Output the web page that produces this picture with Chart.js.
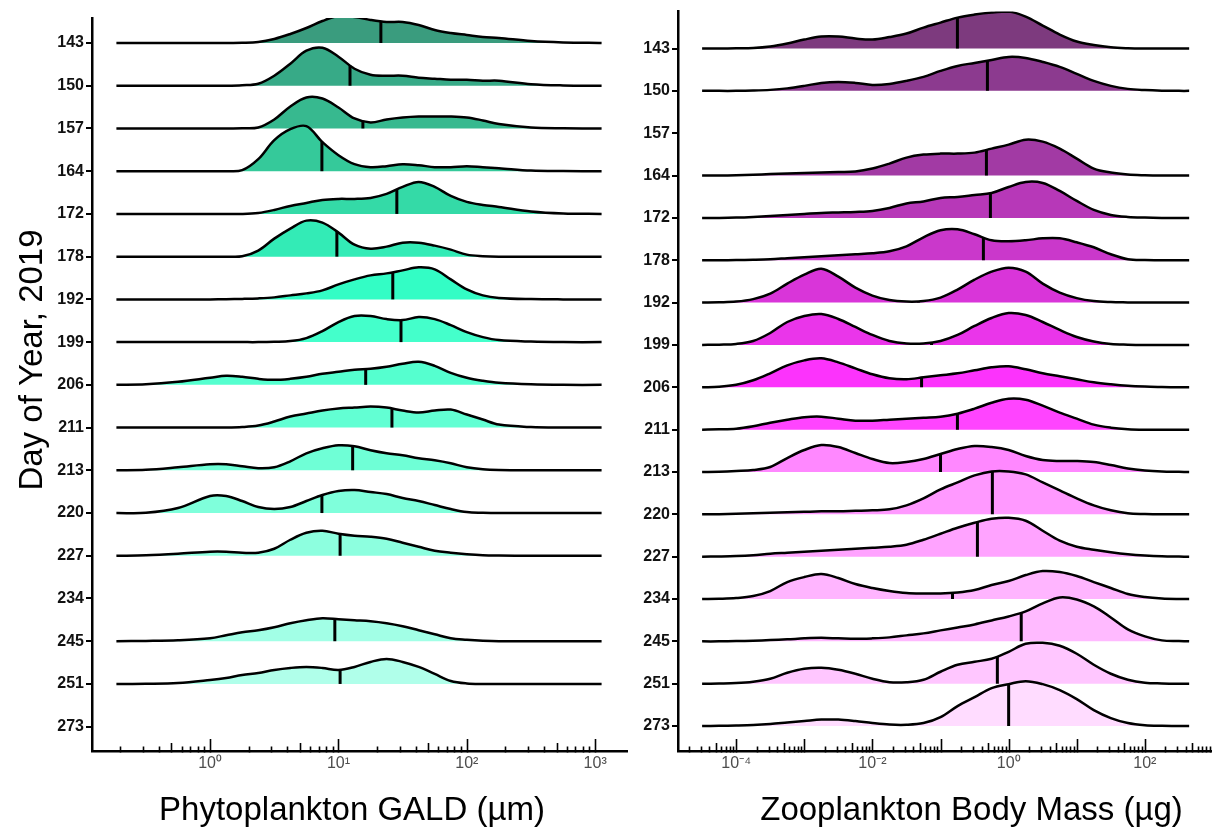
<!DOCTYPE html>
<html><head><meta charset="utf-8">
<script src="https://cdn.jsdelivr.net/npm/chart.js@4.4.1/dist/chart.umd.min.js"></script>
<style>
html,body{margin:0;padding:0;background:#fff;}
#wrap{position:relative;width:1212px;height:829px;overflow:hidden;background:#fff;}
#phyto{position:absolute;left:0;top:0;}
#zoo{position:absolute;left:600px;top:0;}
</style></head><body>
<div id="wrap">
<canvas id="phyto" width="640" height="829" style="width:640px;height:829px"></canvas>
<canvas id="zoo" width="630" height="829" style="width:630px;height:829px"></canvas>
</div>
<script>
// ---------------- DATA ----------------
const days = ['143','150','157','164','172','178','192','199','206','211','213','220','227','234','245','251','273'];

// x grid (log10 of GALD, µm) on which the phytoplankton densities were read
const phytoGridExp = [-0.73,-0.5,-0.25,0,0.125,0.25,0.375,0.5,0.625,0.75,0.875,1,1.125,1.25,1.375,1.5,1.625,1.75,1.875,2,2.125,2.25,2.5,2.75,3.05];
// relative density heights (1 row = 42.6 units)
const phyto143 = [0,0,0,0,0,0.2,1,4,9,15,22,27,26,23,21,21,18,13,10,8,6,5,2,0.6,0];
const phyto150 = [0,0,0,0,0,0.5,2,10,22,35,38,29,17,11,10,10,8,7,6,6,5,5,1.5,0.3,0];
const phyto157 = [0,0,0,0,0,0.2,1,9,22,31,30,21,10,6,9,11,12,12,12,11,8,4.5,1,0.2,0];
const phyto164 = [0,0,0,0,0,1,12,31,42,45,29,16,7,4,5,7,6,4,4,5,4,3,0.6,0.1,0];
const phyto172 = [0,0,0,0,0,0,1,4,8,11,14,15,15,16,20,27,32,27,18,12,9,7,2.5,0.5,0];
const phyto178 = [0,0,0,0,0,0.3,6,18,28,36,34,24,12,8,10,14,14,11,7,2,0.5,0,0,0,0];
const phyto192 = [0,0,0,0,0.2,0.5,1,2,4,6,9,15,20,24,26,29,32,30,20,10,4,1.5,0.3,0,0];
const phyto199 = [0,0,0,0,0,0,0,0.3,1,4,11,20,26,26,23,22,25,23,17,10,5,2,0.5,0,0];
const phyto206 = [0,0.5,3,7,9,8,6,5,6,8,11,13,15,16,18,21,23,19,12,7,4,2,0.5,0,0];
const phyto211 = [0,0,0,0,0,0.5,2,6,11,14,17,19,20,21,20,17,15,17,18,13,8,3,0.5,0,0];
const phyto213 = [0,0.5,3,6,6,4,2,3,9,17,22,25,24,20,17,15,12,10,7,3,1,0.3,0,0,0];
const phyto220 = [0,0.2,5,17,17,12,6,4,6,12,18,22,23,21,19,15,12,8,4,1,0.3,0,0,0,0];
const phyto227 = [0,0.5,2,4,4,3,3,7,16,23,25,22,20,19,17,13,9,5,3,1.5,0.5,0.2,0,0,0];
const phyto245 = [0,0.3,1,3,6,9,11,14,18,21,23,22,21,20,18,15,11,7,3,1.5,0.5,0,0,0,0];
const phyto251 = [0,0.2,1,4,6,9,11,14,16,17,16,14,17,22,25,22,17,10,3,0.5,0,0,0,0,0];
const phytoRidges = [phyto143,phyto150,phyto157,phyto164,phyto172,phyto178,phyto192,phyto199,phyto206,phyto211,phyto213,phyto220,phyto227,null,phyto245,phyto251,null];
// medians (µm)
const phytoMedian = [21.4,12.3,15.5,7.43,28.5,9.72,26.5,30.7,16.3,26.1,12.9,7.43,10.3,null,9.37,10.3,null];

// x grid (log10 of body mass, µg) for zooplankton densities
const zooGridExp = [-4.5,-4.25,-4,-3.75,-3.5,-3.25,-3,-2.75,-2.5,-2.25,-2,-1.75,-1.5,-1.25,-1,-0.75,-0.5,-0.25,0,0.25,0.5,0.75,1,1.25,1.5,1.75,2,2.25,2.5,2.65];
const zoo143 = [0,0,0.2,0.5,2,5,9,12,12,10,9,11.5,15,21,26,31,34,36,37,32,23,14,7,3.5,1.2,0.3,0,0,0,0];
const zoo150 = [0,0,0,0.3,1,2.5,5,8,9,8,6,7,10,14,20,25,28,31,34,33,29,24,17,10,5,2,0.8,0.2,0,0];
const zoo164 = [0,0,0.3,0.8,1.5,2,2.5,3,3.5,4,7,12,18,21,22,22,23,27,31,36,34,27,17,7,3,1,0.3,0,0,0];
const zoo172 = [0,0,0.3,1,2,3,4,5,5.5,6,7,10,14.5,16.5,20,21,23,25,31,36,35,27,17,8,3,1,0.3,0,0,0];
const zoo178 = [0,0,0.2,0.5,1,2,3,4,5,6,7,9,14,23,30,31,26,20,19,20,22,22,18,13,6,1,0.2,0,0,0];
const zoo192 = [0,0.3,1,3.5,9,19,28,34,26,15,7,2.5,1,1.5,5,13,23,31,35,31,19,10,4.5,1.5,0.5,0.2,0,0,0,0];
const zoo199 = [0,0.3,1,4,12,23,29,31,26,18,10,4,1.5,1.5,4,10,19,27,32,30,23,15,8,3.5,1,0.3,0,0,0,0];
const zoo206 = [0,0.5,2.5,7,14,22,27,29,25,19,13,9,8,10,12,14,17,20,21,18,14,11,8,5,3,1.5,0.7,0.3,0,0];
const zoo211 = [0,0.3,1,3.5,7,10,12.5,13,11,9,9,10,11,12,13,16,21,27,31,30,24,17,11,5,2,0.5,0,0,0,0];
const zoo213 = [0,0.3,1,2,5,14,22,27,25,19,13,9,10,13,18,23,26,25,22,16,12,11,11,10,7,3.5,1.5,0.5,0.2,0];
const zoo220 = [0,0.2,0.5,1,1.5,2,2.5,3,3,3.5,4,5,9,16,25,32,39,43,43,40,32,24,16,9,4,1,0.3,0,0,0];
const zoo227 = [0,0.2,0.6,1.5,3,4,5,6,7,8,9,10,12,17,23,29,34,38,39,36,26,16,10,7,4.5,2.5,1.2,0.4,0.1,0];
const zoo234 = [0,0.3,1,3,8,17,22,25,21,15,11,8,6,5.5,5.5,6.5,9,14,18,24,28,27,23,17,11,5,2,0.5,0,0];
const zoo245 = [0,0,0.3,0.7,1.3,2,3,3.5,3,2.5,3,4,6,8,11,14,17,21,25,30,38,44,42,35,24,12,5,1,0.4,0];
const zoo251 = [0,0.2,0.6,2,5,11,15,16,14,10,5,1.5,1.5,4,12,19,22,25,32,40,41,38,30,19,10,4,1,0.3,0,0];
const zoo273 = [0,0.2,0.5,1,2,3.5,5,6.5,6.5,5,3,1.5,1.3,3,9,20,29,38,42,45,42,36,27,16,8,3,0.8,0.2,0,0];
const zooRidges = [zoo143,zoo150,null,zoo164,zoo172,zoo178,zoo192,zoo199,zoo206,zoo211,zoo213,zoo220,zoo227,zoo234,zoo245,zoo251,zoo273];
// medians (µg)
const zooMedian = [0.177,0.488,null,0.472,0.540,0.426,0.0476,0.0738,0.0527,0.177,0.1,0.577,0.348,0.15,1.53,0.683,1.0];

const phytoColors = ['#3a9c7e','#37aa87','#37b98f','#35c99a','#34daa7','#33ebb6','#33fdc5','#44ffcb','#55ffcf','#62ffd3','#6fffd6','#7fffdb','#8dffdf',null,'#a2ffe6','#b0ffea',null];
const zooColors = ['#7d3a7e','#8c3a8f',null,'#a23aa4','#b738b8','#ca38cb','#d935d9','#ea35ea','#fc33fc','#ff44ff','#ff88ff','#ff99ff','#ffa3ff','#ffb5ff','#ffbaff','#ffc6ff','#ffdcff'];

const phytoTickValues = [1,10,100,1000];
const phytoTickLabels = ['10\u2070','10\u00b9','10\u00b2','10\u00b3'];
const zooTickValues = [1e-4,1e-2,1,100];
const zooTickLabels = ['10\u207b\u2074','10\u207b\u00b2','10\u2070','10\u00b2'];

const yTitle = 'Day of Year, 2019';
const phytoXTitle = 'Phytoplankton GALD (\u00b5m)';
const zooXTitle = 'Zooplankton Body Mass (\u00b5g)';

// ---------------- RENDER ----------------
const FONT = "'Liberation Sans', Arial, Helvetica, sans-serif";
Chart.defaults.font.family = FONT;

function heightAt(gridExp, dens, value) {
  const e = Math.log10(value);
  for (let j = 0; j < gridExp.length - 1; j++) {
    if (e >= gridExp[j] && e <= gridExp[j + 1]) {
      const t = (e - gridExp[j]) / (gridExp[j + 1] - gridExp[j]);
      return dens[j] + t * (dens[j + 1] - dens[j]);
    }
  }
  return 0;
}

function logTicks(min, max) {
  const out = [];
  for (let d = Math.floor(Math.log10(min)) - 1; d <= Math.ceil(Math.log10(max)); d++) {
    for (let k = 1; k <= 9; k++) {
      const v = k * Math.pow(10, d);
      if (v >= min * 0.9999 && v <= max * 1.0001) out.push({value: v, major: k === 1, k: k});
    }
  }
  return out;
}

const decor = {
  id: 'decor',
  afterDraw(chart, args, opts) {
    const ctx = chart.ctx;
    const s = chart.scales.x;
    const y0 = chart.chartArea.bottom;
    ctx.save();
    ctx.strokeStyle = '#000';
    ctx.lineWidth = 1.6;
    for (const t of s.ticks) {
      const len = t.k === 1 ? 12 : (t.k === 5 ? 8 : 4.5);
      const px = Math.round(s.getPixelForValue(t.value)) + 0.5;
      ctx.beginPath();
      ctx.moveTo(px, y0 + 1.5);
      ctx.lineTo(px, y0 - len);
      ctx.stroke();
    }
    ctx.fillStyle = '#000';
    ctx.textBaseline = 'alphabetic';
    ctx.textAlign = 'center';
    for (const it of (opts.titles || [])) {
      ctx.save();
      ctx.font = '33px ' + FONT;
      ctx.translate(it.x, it.y);
      if (it.rotate) ctx.rotate(-Math.PI / 2);
      ctx.fillText(it.text, 0, 0);
      ctx.restore();
    }
    ctx.restore();
  }
};

function makeChart(id, cfg) {
  const n = days.length;
  const datasets = [];
  cfg.ridges.forEach((dens, i) => {
    if (!dens) return;
    const base = n - 1 - i;
    datasets.push({
      label: days[i],
      data: cfg.gridExp.map((e, j) => ({x: Math.pow(10, e), y: base + dens[j] / cfg.rowUnits})),
      fill: {value: base},
      backgroundColor: cfg.colors[i],
      borderColor: '#000',
      borderWidth: 2.5,
      pointRadius: 0,
      tension: 0.35,
      borderJoinStyle: 'round',
      order: (n - 1 - i) * 2 + 1
    });
    const m = cfg.medians[i];
    if (m != null) {
      datasets.push({
        label: days[i] + ' median',
        data: [{x: m, y: base}, {x: m, y: base + heightAt(cfg.gridExp, dens, m) / cfg.rowUnits}],
        borderColor: '#000',
        borderWidth: 3,
        pointRadius: 0,
        fill: false,
        borderCapStyle: 'butt',
        order: (n - 1 - i) * 2
      });
    }
  });

  return new Chart(document.getElementById(id), {
    type: 'line',
    data: {datasets},
    plugins: [decor],
    options: {
      responsive: false,
      animation: false,
      layout: {padding: cfg.padding},
      plugins: {legend: {display: false}, tooltip: {enabled: false}, decor: {titles: cfg.titles}},
      scales: {
        x: {
          type: 'logarithmic', position: 'bottom', min: cfg.xMin, max: cfg.xMax,
          afterBuildTicks: s => { s.ticks = logTicks(cfg.xMin, cfg.xMax); },
          afterFit: s => { s.height = 78; },
          grid: {display: false, drawTicks: false},
          border: {display: true, color: '#000', width: 2.5},
          ticks: {
            autoSkip: false, maxRotation: 0, padding: 3, color: '#4d4d4d',
            font: {size: 16, family: FONT},
            callback: v => {
              const idx = cfg.tickValues.findIndex(t => Math.abs(Math.log10(v) - Math.log10(t)) < 1e-6);
              return idx >= 0 ? cfg.tickLabels[idx] : '';
            }
          }
        },
        y: {
          type: 'linear', min: cfg.yMin, max: cfg.yMax,
          afterBuildTicks: s => { s.ticks = days.map((d, i) => ({value: n - 1 - i})); },
          afterFit: s => { s.width = cfg.yWidth; },
          grid: {display: true, drawOnChartArea: false, drawTicks: true, tickLength: 6, color: '#000', lineWidth: 2},
          border: {display: true, color: '#000', width: 2.5},
          ticks: {
            autoSkip: false, padding: 2, color: '#111',
            font: {size: 16, weight: 'bold', family: FONT},
            callback: v => days[n - 1 - Math.round(v)]
          }
        }
      }
    }
  });
}

makeChart('phyto', {
  ridges: phytoRidges, gridExp: phytoGridExp, medians: phytoMedian, colors: phytoColors,
  rowUnits: 42.7, xMin: 0.1202, xMax: 1770, yMin: -0.569, yMax: 16.585, yWidth: 92,
  padding: {left: 0, top: 18, right: 13, bottom: 0},
  tickValues: phytoTickValues, tickLabels: phytoTickLabels,
  titles: [{text: yTitle, x: 42, y: 360, rotate: true}, {text: phytoXTitle, x: 352, y: 820}]
});

makeChart('zoo', {
  ridges: zooRidges, gridExp: zooGridExp, medians: zooMedian, colors: zooColors,
  rowUnits: 42.44, xMin: 1.4e-5, xMax: 1000, yMin: -0.589, yMax: 16.872, yWidth: 78,
  padding: {left: 0, top: 10, right: 17, bottom: 0},
  tickValues: zooTickValues, tickLabels: zooTickLabels,
  titles: [{text: zooXTitle, x: 371.5, y: 820}]
});
</script>
</body></html>
